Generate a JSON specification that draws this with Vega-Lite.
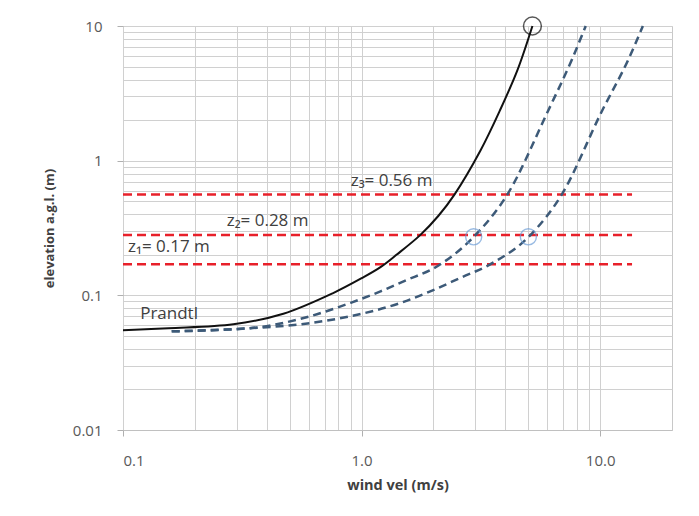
{
  "$schema": "https://vega.github.io/schema/vega-lite/v6.json",
  "width": 549,
  "height": 404,
  "autosize": "none",
  "padding": {"left": 123, "top": 26, "right": 27, "bottom": 86},
  "background": "white",
  "config": {
    "view": {"stroke": "#c8c8c8", "strokeWidth": 1},
    "font": "Open Sans"
  },
  "datasets": {
    "prandtl": [
      {"u": 0.1, "z": 0.055}, {"u": 0.155, "z": 0.057}, {"u": 0.29, "z": 0.061},
      {"u": 0.47, "z": 0.073}, {"u": 0.76, "z": 0.104}, {"u": 1.0, "z": 0.134},
      {"u": 1.2, "z": 0.162}, {"u": 1.4, "z": 0.2}, {"u": 1.76, "z": 0.28},
      {"u": 2.1, "z": 0.39}, {"u": 2.45, "z": 0.56}, {"u": 3.15, "z": 1.19},
      {"u": 3.8, "z": 2.36}, {"u": 4.5, "z": 4.7}, {"u": 5.2, "z": 10}
    ],
    "curves": [
      {"c": "a", "u": 0.16, "z": 0.054}, {"c": "a", "u": 0.34, "z": 0.057},
      {"c": "a", "u": 0.556, "z": 0.067}, {"c": "a", "u": 0.9, "z": 0.088},
      {"c": "a", "u": 1.2, "z": 0.107}, {"c": "a", "u": 1.5, "z": 0.127},
      {"c": "a", "u": 2.14, "z": 0.17}, {"c": "a", "u": 3.0, "z": 0.28},
      {"c": "a", "u": 4.08, "z": 0.56}, {"c": "a", "u": 6.06, "z": 2.36},
      {"c": "a", "u": 7.6, "z": 5.6}, {"c": "a", "u": 8.7, "z": 10},
      {"c": "b", "u": 0.16, "z": 0.054}, {"c": "b", "u": 0.34, "z": 0.057},
      {"c": "b", "u": 0.556, "z": 0.061}, {"c": "b", "u": 0.9, "z": 0.07},
      {"c": "b", "u": 1.46, "z": 0.088}, {"c": "b", "u": 1.94, "z": 0.107},
      {"c": "b", "u": 2.6, "z": 0.135}, {"c": "b", "u": 3.46, "z": 0.17},
      {"c": "b", "u": 5.1, "z": 0.28}, {"c": "b", "u": 6.9, "z": 0.56},
      {"c": "b", "u": 10.2, "z": 2.36}, {"c": "b", "u": 13.1, "z": 5.6},
      {"c": "b", "u": 15.1, "z": 10}
    ],
    "zlevels": [
      {"z": 0.17, "u0": 0.1, "u1": 13.6},
      {"z": 0.28, "u0": 0.1, "u1": 13.6},
      {"z": 0.56, "u0": 0.1, "u1": 13.6}
    ],
    "bluecircles": [
      {"u": 2.95, "z": 0.272}, {"u": 5.0, "z": 0.272}
    ],
    "blackcircle": [
      {"u": 5.2, "z": 10}
    ],
    "labels": [
      {"u": 0.105, "z": 0.227, "t": "z₁= 0.17 m"},
      {"u": 0.272, "z": 0.356, "t": "z₂= 0.28 m"},
      {"u": 0.9, "z": 0.71, "t": "z₃= 0.56 m"},
      {"u": 0.118, "z": 0.073, "t": "Prandtl"}
    ]
  },
  "layer": [
    {
      "data": {"name": "zlevels"},
      "mark": {"type": "rule", "color": "#e8202a", "strokeWidth": 2.5, "strokeDash": [9, 5]},
      "encoding": {
        "x": {
          "field": "u0", "type": "quantitative",
          "scale": {"type": "log", "domain": [0.1, 20], "nice": false},
          "axis": {
            "title": "wind vel (m/s)",
            "titleFont": "Open Sans", "titleFontSize": 14.5, "titleFontWeight": "bold", "titleColor": "#404040",
            "titlePadding": 10,
            "values": [0.1, 0.2, 0.3, 0.4, 0.5, 0.6, 0.7, 0.8, 0.9, 1, 2, 3, 4, 5, 6, 7, 8, 9, 10],
            "labelExpr": "datum.value == 0.1 ? '0.1' : datum.value == 1 ? '1.0' : datum.value == 10 ? '10.0' : ''",
            "labelFontSize": 15, "labelColor": "#595959", "labelPadding": 17,
            "grid": true, "gridColor": "#d0d0d0", "gridWidth": 1,
            "ticks": true, "tickSize": 6, "tickColor": "#b0b0b0",
            "tickOpacity": {"condition": {"test": "datum.value == 0.1 || datum.value == 1 || datum.value == 10", "value": 1}, "value": 0},
            "domain": true, "domainColor": "#c0c0c0"
          }
        },
        "x2": {"field": "u1"},
        "y": {
          "field": "z", "type": "quantitative",
          "scale": {"type": "log", "domain": [0.01, 10], "nice": false},
          "axis": {
            "title": "elevation a.g.l. (m)",
            "titleFont": "Open Sans", "titleFontSize": 13, "titleFontWeight": "bold", "titleColor": "#404040",
            "titlePadding": 16,
            "values": [0.01, 0.02, 0.03, 0.04, 0.05, 0.06, 0.07, 0.08, 0.09, 0.1, 0.2, 0.3, 0.4, 0.5, 0.6, 0.7, 0.8, 0.9, 1, 2, 3, 4, 5, 6, 7, 8, 9, 10],
            "labelExpr": "datum.value == 0.01 ? '0.01' : datum.value == 0.1 ? '0.1' : datum.value == 1 ? '1' : datum.value == 10 ? '10' : ''",
            "labelFontSize": 15, "labelColor": "#595959", "labelPadding": 15,
            "grid": true, "gridColor": "#d0d0d0", "gridWidth": 1,
            "ticks": true, "tickSize": 6, "tickColor": "#b0b0b0",
            "tickOpacity": {"condition": {"test": "datum.value == 0.01 || datum.value == 0.1 || datum.value == 1 || datum.value == 10", "value": 1}, "value": 0},
            "domain": false
          }
        }
      }
    },
    {
      "data": {"name": "curves"},
      "mark": {"type": "line", "color": "#3d5a78", "strokeWidth": 2.5, "strokeDash": [8, 5], "interpolate": "monotone"},
      "encoding": {
        "x": {"field": "u", "type": "quantitative"},
        "y": {"field": "z", "type": "quantitative"},
        "detail": {"field": "c"},
        "order": {"field": "u", "type": "quantitative"}
      }
    },
    {
      "data": {"name": "prandtl"},
      "mark": {"type": "line", "color": "#111111", "strokeWidth": 2, "interpolate": "catmull-rom"},
      "encoding": {
        "x": {"field": "u", "type": "quantitative"},
        "y": {"field": "z", "type": "quantitative"}
      }
    },
    {
      "data": {"name": "bluecircles"},
      "mark": {"type": "point", "shape": "circle", "filled": false, "size": 260, "color": "#6f9fd8", "strokeWidth": 1.4},
      "encoding": {
        "x": {"field": "u", "type": "quantitative"},
        "y": {"field": "z", "type": "quantitative"}
      }
    },
    {
      "data": {"name": "blackcircle"},
      "mark": {"type": "point", "shape": "circle", "filled": false, "size": 320, "color": "#111111", "strokeWidth": 1.5},
      "encoding": {
        "x": {"field": "u", "type": "quantitative"},
        "y": {"field": "z", "type": "quantitative"}
      }
    },
    {
      "data": {"name": "labels"},
      "mark": {"type": "text", "align": "left", "baseline": "middle", "fontSize": 17, "color": "#404040", "font": "Open Sans"},
      "encoding": {
        "x": {"field": "u", "type": "quantitative"},
        "y": {"field": "z", "type": "quantitative"},
        "text": {"field": "t"}
      }
    }
  ]
}
